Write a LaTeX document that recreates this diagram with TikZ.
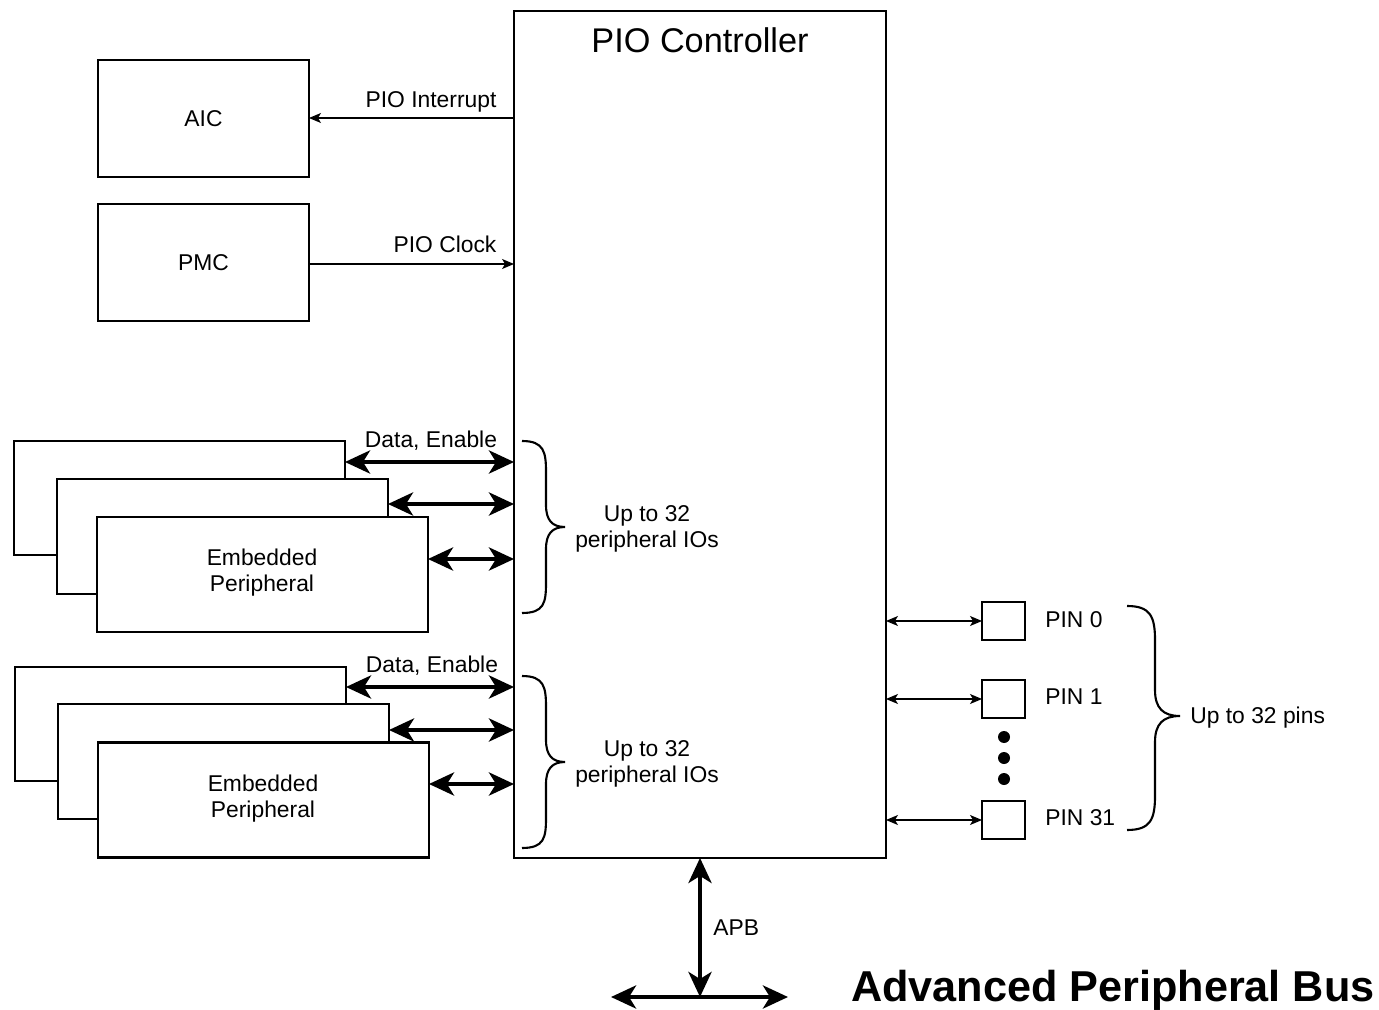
\documentclass[tikz,border=0pt]{standalone}
\usepackage{fontspec}
\setmainfont{Liberation Sans}
\usetikzlibrary{arrows.meta,calc}
\begin{document}
\begin{tikzpicture}[x=0.02cm,y=-0.02cm,
  box/.style={draw,line width=1.4pt,fill=white,inner sep=0pt,outer sep=0pt,align=center,font=\fontsize{13}{14.7}\selectfont},
  pinbox/.style={draw,line width=1.4pt,fill=white,inner sep=0pt,outer sep=0pt,minimum width=0.86cm,minimum height=0.76cm},
  lbl/.style={inner sep=0pt,align=center,font=\fontsize{13}{14.5}\selectfont},
  thin arrow/.style={line width=0.6pt,-{Stealth[length=0.24cm,width=0.2cm,inset=0.06cm]}},
  thin both/.style={line width=0.6pt,{Stealth[length=0.24cm,width=0.2cm,inset=0.06cm]}-{Stealth[length=0.24cm,width=0.2cm,inset=0.06cm]}},
  thick both/.style={line width=2.8pt,{Stealth[length=0.5cm,width=0.46cm,inset=0.14cm]}-{Stealth[length=0.5cm,width=0.46cm,inset=0.14cm]}},
  bracestyle/.style={line width=1.2pt},
]
\useasboundingbox (0,0) rectangle (1379,1010);

% PIO controller
\node[box,minimum width=7.44cm,minimum height=16.94cm] (pio) at (700,434.5) {};
\node[lbl,font=\fontsize{19.5}{22}\selectfont] (piotitle) at (700,40) {PIO Controller};

% AIC / PMC
\node[box,minimum width=4.22cm,minimum height=2.34cm] (aic) at (203.5,118.5) {AIC};
\node[box,minimum width=4.22cm,minimum height=2.34cm] (pmc) at (203.5,262.5) {PMC};

\draw[thin arrow] (pio.west |- 0,118) -- (aic.east |- 0,118);
\node[lbl,anchor=south] (lint) at (431,113) {PIO Interrupt};
\draw[thin arrow] (pmc.east |- 0,264) -- (pio.west |- 0,264);
\node[lbl,anchor=south] (lclk) at (445,253) {PIO Clock};

% peripheral group 1
\node[box,minimum width=6.62cm,minimum height=2.28cm] (back1) at (179.5,498) {};
\node[box,minimum width=6.62cm,minimum height=2.3cm] (mid1) at (222.5,536.5) {};
\node[box,minimum width=6.62cm,minimum height=2.3cm] (front1) at (262.5,574.5) {};
\node[lbl,font=\fontsize{13}{14.8}\selectfont] (front1txt) at (262,573) {Embedded\\Peripheral};
\draw[thick both] (back1.east |- 0,462) -- (pio.west |- 0,462);
\draw[thick both] (mid1.east |- 0,504) -- (pio.west |- 0,504);
\draw[thick both] (front1.east |- 0,559) -- (pio.west |- 0,559);
\node[lbl,anchor=south] (de1) at (431,451) {Data, Enable};
\draw[bracestyle] (522,441) .. controls (544,441) and (546,452) .. (546,472) -- (546,505) .. controls (546,520) and (552,527) .. (565,527) .. controls (552,527) and (546,534) .. (546,549) -- (546,583) .. controls (546,603) and (544,613) .. (522,613);
\node[lbl] (up1) at (647,529) {Up to 32\\peripheral IOs};

% peripheral group 2
\node[box,minimum width=6.62cm,minimum height=2.28cm] (back2) at (180.5,724) {};
\node[box,minimum width=6.62cm,minimum height=2.3cm] (mid2) at (223.5,761.5) {};
\node[box,minimum width=6.62cm,minimum height=2.3cm] (front2) at (263.5,800) {};
\node[lbl,font=\fontsize{13}{14.8}\selectfont] (front2txt) at (263,799) {Embedded\\Peripheral};
\draw[thick both] (back2.east |- 0,687) -- (pio.west |- 0,687);
\draw[thick both] (mid2.east |- 0,730) -- (pio.west |- 0,730);
\draw[thick both] (front2.east |- 0,784) -- (pio.west |- 0,784);
\node[lbl,anchor=south] (de2) at (432,676) {Data, Enable};
\draw[bracestyle] (522,676) .. controls (544,676) and (546,687) .. (546,707) -- (546,740) .. controls (546,755) and (552,762) .. (565,762) .. controls (552,762) and (546,769) .. (546,784) -- (546,818) .. controls (546,838) and (544,848) .. (522,848);
\node[lbl] (up2) at (647,764) {Up to 32\\peripheral IOs};

% pins
\node[pinbox] (pin0) at (1003.5,621) {};
\node[pinbox] (pin1) at (1003.5,699) {};
\node[pinbox] (pin31) at (1003.5,820) {};
\draw[thin both] (pio.east |- pin0) -- (pin0.west);
\draw[thin both] (pio.east |- pin1) -- (pin1.west);
\draw[thin both] (pio.east |- pin31) -- (pin31.west);
\node[lbl,anchor=west] (lp0) at (1045,620) {PIN 0};
\node[lbl,anchor=west] (lp1) at (1045,697) {PIN 1};
\node[lbl,anchor=west] (lp31) at (1045,818) {PIN 31};
\fill (1004,737) circle[radius=0.12cm];
\fill (1004,758) circle[radius=0.12cm];
\fill (1004,779) circle[radius=0.12cm];
\draw[bracestyle] (1127,606) .. controls (1150,606) and (1155,616) .. (1155,640) -- (1155,690) .. controls (1155,708) and (1163,716) .. (1180,716) .. controls (1163,716) and (1155,724) .. (1155,742) -- (1155,796) .. controls (1155,820) and (1150,830) .. (1127,830);
\node[lbl,anchor=west] (uppins) at (1190,718) {Up to 32 pins};

% APB
\coordinate (busmid) at (700,997);
\coordinate (busL) at (611,997);
\coordinate (busR) at (788,997);
\draw[thick both] (pio.south) -- (busmid);
\draw[thick both] (busL) -- (busR);
\node[lbl,anchor=west] (apb) at (713,928) {APB};
\node[inner sep=0pt,anchor=east,font=\fontsize{24.6}{28}\selectfont\bfseries] (apbtitle) at (1375,990) {Advanced Peripheral Bus};
\end{tikzpicture}
\end{document}
